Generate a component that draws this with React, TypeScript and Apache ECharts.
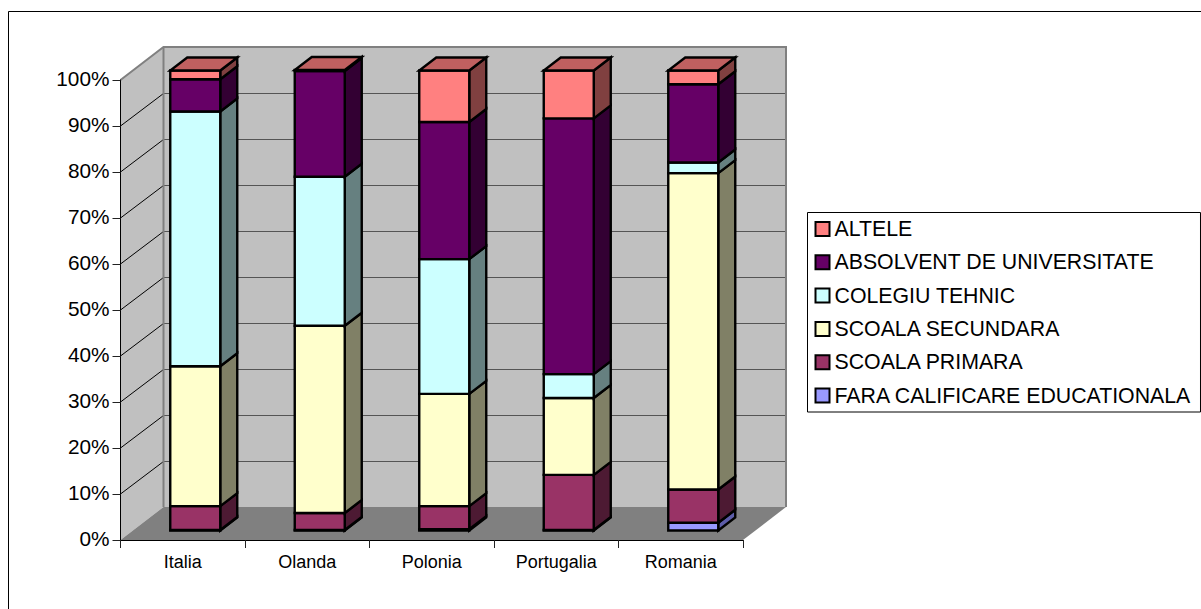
import React, { useEffect, useRef } from "react";
import * as echarts from "echarts";

const countries = ["Italia", "Olanda", "Polonia", "Portugalia", "Romania"];
const yTicks = [0, 10, 20, 30, 40, 50, 60, 70, 80, 90, 100];

// Shares in percent, one list per qualification, stacked from the bottom up.
const faraCalificare = [0.1, 0.1, 0.3, 0.1, 1.7];
const scoalaPrimara = [5.2, 3.7, 5.0, 12.0, 7.2];
const scoalaSecundara = [30.4, 40.7, 24.4, 16.7, 68.8];
const colegiuTehnic = [55.4, 32.4, 29.3, 5.2, 2.3];
const absolvent = [7.0, 23.0, 29.8, 55.6, 17.0];
const altele = [1.9, 0.2, 11.2, 10.4, 3.0];

const levels = [
  { name: "FARA CALIFICARE EDUCATIONALA", values: faraCalificare, front: "#9999FF", side: "#5C5CA8" },
  { name: "SCOALA PRIMARA", values: scoalaPrimara, front: "#993366", side: "#4D1A33" },
  { name: "SCOALA SECUNDARA", values: scoalaSecundara, front: "#FFFFCC", side: "#808066" },
  { name: "COLEGIU TEHNIC", values: colegiuTehnic, front: "#CCFFFF", side: "#668080" },
  { name: "ABSOLVENT DE UNIVERSITATE", values: absolvent, front: "#660066", side: "#330033" },
  { name: "ALTELE", values: altele, front: "#FF8080", side: "#804040" },
];
const capColor = "#C06060";
const legendOrder = levels.map((l) => l.name).reverse();

// Oblique projection: box depth and how far the columns sit behind the front plane.
const DEPTH_X = 43;
const DEPTH_Y = 33;
const COL_SHIFT_X = 12.5;
const COL_SHIFT_Y = 9.5;
const COL_DEPTH_X = 17;
const COL_DEPTH_Y = 13;
const COL_WIDTH = 50;
const COL_STROKE = 2.4;

const font = "'Liberation Sans', Arial, sans-serif";

function poly(points: number[][], fill: string, stroke: string, lineWidth: number) {
  return { type: "polygon", shape: { points }, style: { fill, stroke, lineWidth, lineJoin: "miter" } };
}

function renderBox(params: any, api: any) {
  const cs = params.coordSys;
  const xL = cs.x;
  const xR = cs.x + cs.width;
  const yB = cs.y + cs.height;
  const yT = cs.y;
  const children: any[] = [
    poly([[xL, yB], [xL + DEPTH_X, yB - DEPTH_Y], [xL + DEPTH_X, yT - DEPTH_Y], [xL, yT]], "#C0C0C0", "none", 0),
    poly([[xL + DEPTH_X, yB - DEPTH_Y], [xR + DEPTH_X, yB - DEPTH_Y], [xR + DEPTH_X, yT - DEPTH_Y], [xL + DEPTH_X, yT - DEPTH_Y]], "#C0C0C0", "none", 0),
    poly([[xL, yB], [xR, yB], [xR + DEPTH_X, yB - DEPTH_Y], [xL + DEPTH_X, yB - DEPTH_Y]], "#808080", "none", 0),
  ];
  yTicks.forEach((t) => {
    const y = api.coord([0, t])[1];
    if (t > 0 && t < 100) {
      // Half-pixel nudge keeps the back-wall rules crisp.
      const backY = y - DEPTH_Y + 0.5;
      children.push({ type: "line", shape: { x1: xL + DEPTH_X, y1: backY, x2: xR + DEPTH_X, y2: backY }, style: { stroke: "#555555", lineWidth: 1 } });
      children.push({ type: "line", shape: { x1: xL, y1: y, x2: xL + DEPTH_X, y2: backY }, style: { stroke: "#000000", lineWidth: 1 } });
    }
  });
  // Heavier grey outline of the walls.
  children.push({
    type: "polyline",
    shape: { points: [[xL, yT], [xL + DEPTH_X, yT - DEPTH_Y], [xR + DEPTH_X, yT - DEPTH_Y], [xR + DEPTH_X, yB - DEPTH_Y]] },
    style: { fill: "none", stroke: "#808080", lineWidth: 2 },
  });
  children.push({
    type: "line",
    shape: { x1: xL + DEPTH_X, y1: yT - DEPTH_Y, x2: xL + DEPTH_X, y2: yB - DEPTH_Y },
    style: { stroke: "#808080", lineWidth: 2 },
  });
  return { type: "group", children };
}

function makeRenderSegment(level: (typeof levels)[number], isTop: boolean) {
  return (_params: any, api: any) => {
    const cat = api.value(0);
    const low = api.value(1);
    const high = api.value(2);
    const cx = api.coord([cat, 0])[0] + COL_SHIFT_X;
    const x0 = cx - COL_WIDTH / 2;
    const x1 = cx + COL_WIDTH / 2;
    const yLow = api.coord([cat, low])[1] - COL_SHIFT_Y;
    const yHigh = api.coord([cat, high])[1] - COL_SHIFT_Y;
    const children: any[] = [
      poly([[x1, yLow], [x1 + COL_DEPTH_X, yLow - COL_DEPTH_Y], [x1 + COL_DEPTH_X, yHigh - COL_DEPTH_Y], [x1, yHigh]], level.side, "#000", COL_STROKE),
      poly([[x0, yLow], [x1, yLow], [x1, yHigh], [x0, yHigh]], level.front, "#000", COL_STROKE),
    ];
    if (isTop) {
      children.push(poly([[x0, yHigh], [x1, yHigh], [x1 + COL_DEPTH_X, yHigh - COL_DEPTH_Y], [x0 + COL_DEPTH_X, yHigh - COL_DEPTH_Y]], capColor, "#000", COL_STROKE));
    }
    return { type: "group", children };
  };
}

function buildOption() {
  const running = countries.map(() => 0);
  const segmentSeries = levels.map((level, i) => {
    const data = countries.map((_c, c) => {
      const low = running[c];
      running[c] = low + level.values[c];
      return [c, low, running[c]];
    });
    return {
      type: "custom",
      name: level.name,
      z: 3 + i,
      silent: true,
      itemStyle: { color: level.front },
      encode: { x: 0, y: [1, 2] },
      renderItem: makeRenderSegment(level, i === levels.length - 1),
      data,
    };
  });

  return {
    animation: false,
    backgroundColor: "#FFFFFF",
    grid: { left: 120.5, top: 80, width: 622.5, height: 460, containLabel: false },
    xAxis: {
      type: "category",
      data: countries,
      boundaryGap: true,
      z: 20,
      axisLine: { show: true, lineStyle: { color: "#000", width: 1 } },
      axisTick: { show: true, length: 8, alignWithLabel: false, lineStyle: { color: "#222", width: 1 } },
      axisLabel: { color: "#000", fontFamily: font, fontSize: 18, margin: 13 },
      splitLine: { show: false },
    },
    yAxis: {
      type: "value",
      min: 0,
      max: 100,
      interval: 10,
      z: 20,
      axisLine: { show: true, lineStyle: { color: "#000", width: 1 } },
      axisTick: { show: true, length: 8, lineStyle: { color: "#222", width: 1 } },
      axisLabel: {
        color: "#000",
        fontFamily: font,
        fontSize: 20.8,
        margin: 11,
        verticalAlign: "bottom",
        lineHeight: 4,
        formatter: "{value}%",
      },
      splitLine: { show: false },
    },
    legend: {
      orient: "vertical",
      left: 807.5,
      top: 212.5,
      data: legendOrder,
      icon: "rect",
      itemWidth: 14,
      itemHeight: 14,
      itemGap: 12.3,
      padding: [6, 9, 6, 7],
      backgroundColor: "#FFFFFF",
      borderColor: "#000",
      borderWidth: 1,
      selectedMode: false,
      itemStyle: { borderColor: "#000", borderWidth: 2 },
      textStyle: { color: "#000", fontFamily: font, fontSize: 21.3, padding: [0, 0, 0, 0] },
    },
    graphic: [
      { type: "line", shape: { x1: 8.5, y1: 11.5, x2: 1201, y2: 11.5 }, style: { stroke: "#000", lineWidth: 1 }, silent: true },
      { type: "line", shape: { x1: 8.5, y1: 11.5, x2: 8.5, y2: 609 }, style: { stroke: "#000", lineWidth: 1 }, silent: true },
    ],
    series: [
      { type: "custom", name: "box", z: 1, silent: true, renderItem: renderBox, data: [[0, 0, 100]], encode: { x: 0, y: 1 }, clip: false },
      ...segmentSeries,
    ],
  };
}

export default function App() {
  const ref = useRef<HTMLDivElement>(null);
  useEffect(() => {
    const chart = echarts.init(ref.current!, undefined, { renderer: "svg" });
    chart.setOption(buildOption() as any);
    return () => chart.dispose();
  }, []);
  return <div ref={ref} style={{ position: "fixed", left: 0, top: 0, width: 1201, height: 609 }} />;
}
